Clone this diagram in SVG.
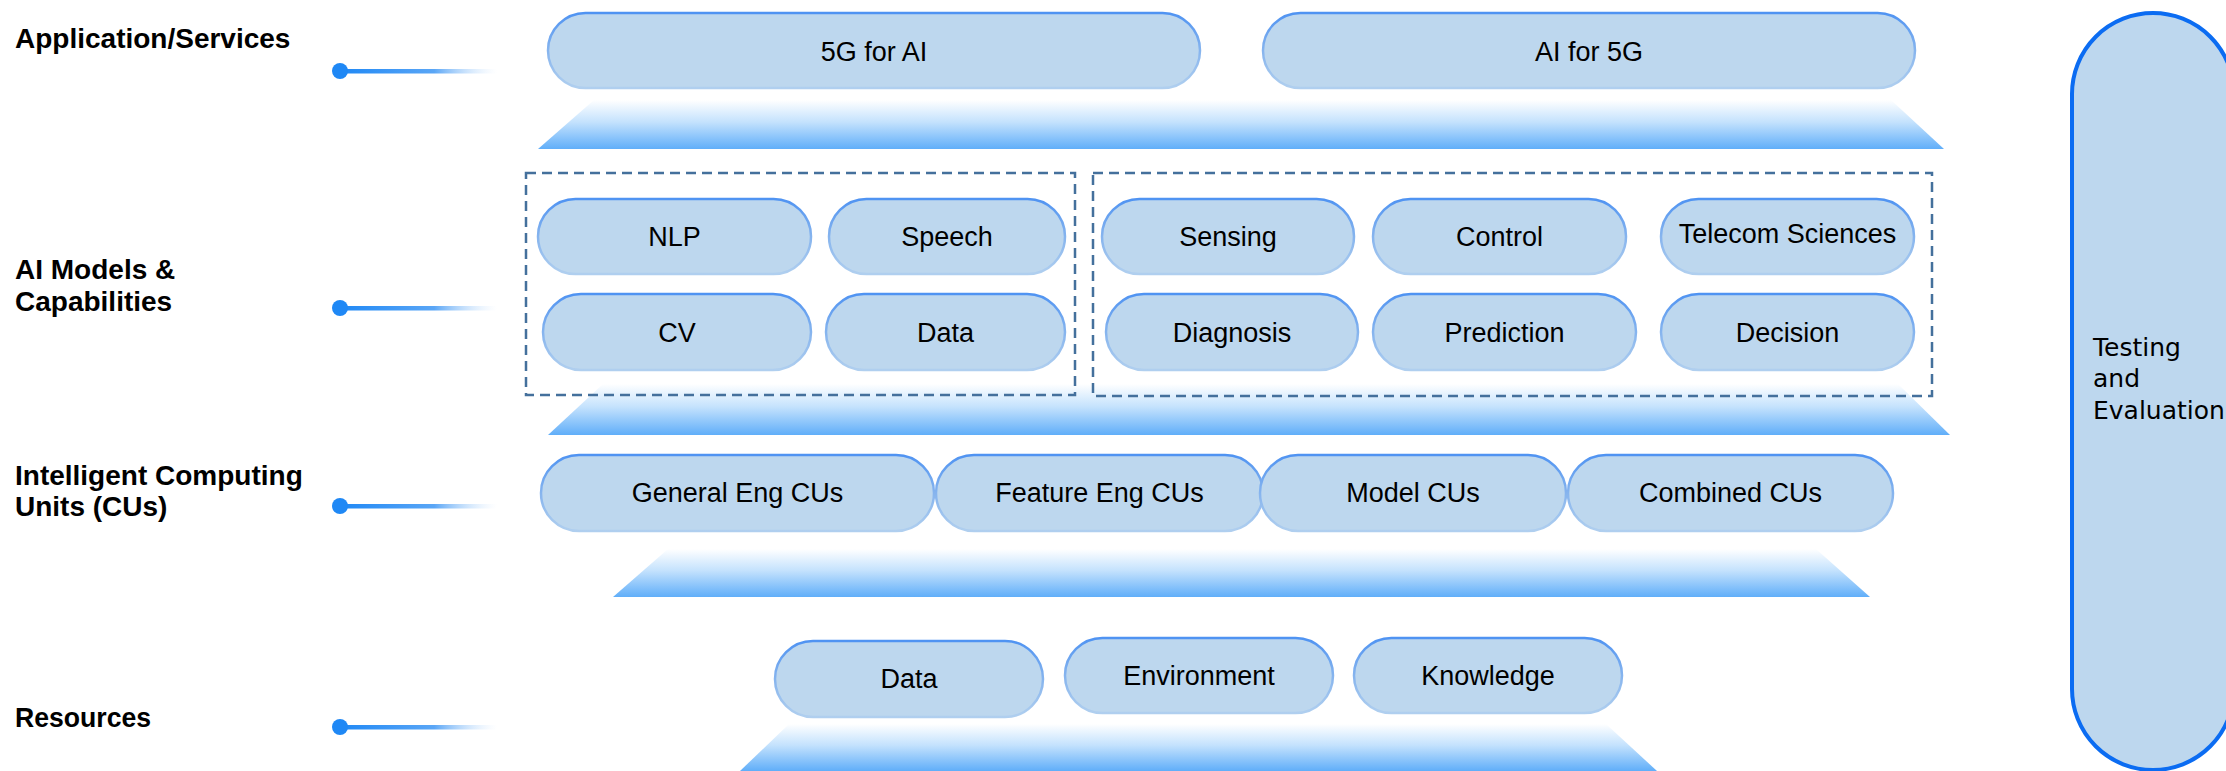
<svg xmlns="http://www.w3.org/2000/svg" width="2226" height="771" viewBox="0 0 2226 771">
<defs>
<linearGradient id="trap" x1="0" y1="0" x2="0" y2="1">
<stop offset="0" stop-color="#ffffff"/>
<stop offset="0.45" stop-color="#c4e2fd"/>
<stop offset="1" stop-color="#60aef9"/>
</linearGradient>
<linearGradient id="pillStroke" x1="0" y1="0" x2="0" y2="1">
<stop offset="0" stop-color="#4f93f2"/>
<stop offset="0.5" stop-color="#86b4ee"/>
<stop offset="1" stop-color="#b0cfef"/>
</linearGradient>
<linearGradient id="lineGrad" x1="0" y1="0" x2="1" y2="0">
<stop offset="0" stop-color="#1f88f5"/>
<stop offset="0.6" stop-color="#5aa6f6"/>
<stop offset="1" stop-color="#ffffff" stop-opacity="0.3"/>
</linearGradient>
</defs>
<style>
.pill{fill:#bdd7ee;stroke:url(#pillStroke);stroke-width:2.5}
.trap{fill:url(#trap)}
.dash{fill:none;stroke:#44709c;stroke-width:2.5;stroke-dasharray:10 6}
.t{font-family:"Liberation Sans",Arial,sans-serif;font-size:27px;fill:#000;text-anchor:middle}
.lbl{font-family:"Liberation Sans",Arial,sans-serif;font-size:28px;font-weight:bold;fill:#000}
.dot{fill:#1f88f5}
.ln{fill:url(#lineGrad)}
</style>
<rect width="2226" height="771" fill="#ffffff"/>

<g id="layer-labels">
<text class="lbl" x="15" y="48">Application/Services</text>
<text class="lbl" x="15" y="279">AI Models &amp;</text>
<text class="lbl" x="15" y="311">Capabilities</text>
<text class="lbl" x="15" y="485">Intelligent Computing</text>
<text class="lbl" x="15" y="516">Units (CUs)</text>
<text class="lbl" x="15" y="727" textLength="136" lengthAdjust="spacingAndGlyphs">Resources</text>
</g>

<g id="connectors">
<rect class="ln" x="340" y="69" width="157" height="4.5"/>
<rect class="ln" x="340" y="306" width="157" height="4.5"/>
<rect class="ln" x="340" y="504" width="157" height="4.5"/>
<rect class="ln" x="340" y="725" width="157" height="4.5"/>
<circle class="dot" cx="340" cy="71" r="8"/>
<circle class="dot" cx="340" cy="308" r="8"/>
<circle class="dot" cx="340" cy="506" r="8"/>
<circle class="dot" cx="340" cy="727" r="8"/>
</g>

<g id="platforms">
<polygon class="trap" points="594,100 1891,100 1944,149 538,149"/>
<polygon class="trap" points="603,384 1898,384 1950,435 548,435"/>
<polygon class="trap" points="668,549 1816,549 1870,597 613,597"/>
<polygon class="trap" points="789,724 1606,724 1657,771 740,771"/>
</g>

<g id="group-ai-general">
<rect class="dash" x="526" y="173" width="549" height="222"/>
</g>
<g id="group-ai-telecom">
<rect class="dash" x="1093" y="173" width="839" height="223"/>
</g>

<g id="node-5g-for-ai"><rect class="pill" x="548" y="13" width="652" height="75" rx="37.5"/><text class="t" x="874" y="61">5G for AI</text></g>
<g id="node-ai-for-5g"><rect class="pill" x="1263" y="13" width="652" height="75" rx="37.5"/><text class="t" x="1589" y="61">AI for 5G</text></g>

<g id="node-nlp"><rect class="pill" x="538" y="199" width="273" height="75" rx="37.5"/><text class="t" x="674.5" y="246">NLP</text></g>
<g id="node-speech"><rect class="pill" x="829" y="199" width="236" height="75" rx="37.5"/><text class="t" x="947" y="246">Speech</text></g>
<g id="node-cv"><rect class="pill" x="543" y="294" width="268" height="76" rx="38"/><text class="t" x="677" y="342">CV</text></g>
<g id="node-data-model"><rect class="pill" x="826" y="294" width="239" height="76" rx="38"/><text class="t" x="945.5" y="342">Data</text></g>
<g id="node-sensing"><rect class="pill" x="1102" y="199" width="252" height="75" rx="37.5"/><text class="t" x="1228" y="246">Sensing</text></g>
<g id="node-control"><rect class="pill" x="1373" y="199" width="253" height="75" rx="37.5"/><text class="t" x="1499.5" y="246">Control</text></g>
<g id="node-telecom"><rect class="pill" x="1661" y="199" width="253" height="75" rx="37.5"/><text class="t" x="1787.5" y="243">Telecom Sciences</text></g>
<g id="node-diagnosis"><rect class="pill" x="1106" y="294" width="252" height="76" rx="38"/><text class="t" x="1232" y="342">Diagnosis</text></g>
<g id="node-prediction"><rect class="pill" x="1373" y="294" width="263" height="76" rx="38"/><text class="t" x="1504.5" y="342">Prediction</text></g>
<g id="node-decision"><rect class="pill" x="1661" y="294" width="253" height="76" rx="38"/><text class="t" x="1787.5" y="342">Decision</text></g>

<g id="node-general-eng"><rect class="pill" x="541" y="455" width="393" height="76" rx="38"/><text class="t" x="737.5" y="502">General Eng CUs</text></g>
<g id="node-feature-eng"><rect class="pill" x="936" y="455" width="327" height="76" rx="38"/><text class="t" x="1099.5" y="502">Feature Eng CUs</text></g>
<g id="node-model-cus"><rect class="pill" x="1260" y="455" width="306" height="76" rx="38"/><text class="t" x="1413" y="502">Model CUs</text></g>
<g id="node-combined-cus"><rect class="pill" x="1568" y="455" width="325" height="76" rx="38"/><text class="t" x="1730.5" y="502">Combined CUs</text></g>

<g id="node-data-res"><rect class="pill" x="775" y="641" width="268" height="76" rx="38"/><text class="t" x="909" y="688">Data</text></g>
<g id="node-environment"><rect class="pill" x="1065" y="638" width="268" height="75" rx="37.5"/><text class="t" x="1199" y="685">Environment</text></g>
<g id="node-knowledge"><rect class="pill" x="1354" y="638" width="268" height="75" rx="37.5"/><text class="t" x="1488" y="685">Knowledge</text></g>

<g id="node-testing">
<rect x="2072" y="13" width="162" height="757" rx="81" fill="#bdd7ee" stroke="#0b6cf2" stroke-width="4"/>
<text font-family="'DejaVu Sans',Verdana,sans-serif" font-size="25" fill="#000"><tspan x="2093" y="356">Testing</tspan><tspan x="2093" y="387">and</tspan><tspan x="2093" y="419">Evaluation</tspan></text>
</g>
</svg>
